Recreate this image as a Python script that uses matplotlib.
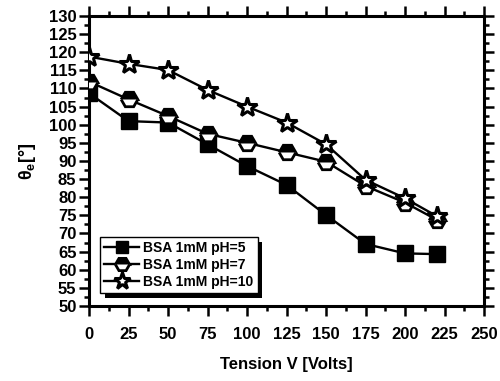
import matplotlib
matplotlib.use("Agg")
import matplotlib.pyplot as plt
from matplotlib.ticker import MultipleLocator
import matplotlib.patheffects as pe

plt.rcParams['font.family'] = ['Liberation Sans', 'DejaVu Sans']
plt.rcParams['font.weight'] = 'bold'
plt.rcParams['mathtext.fontset'] = 'custom'
plt.rcParams['mathtext.bf'] = 'Liberation Sans:bold'
plt.rcParams['mathtext.rm'] = 'Liberation Sans:bold'
plt.rcParams['mathtext.it'] = 'Liberation Sans:bold'
plt.rcParams['mathtext.default'] = 'bf'

voltage = [0, 25, 50, 75, 100, 125, 150, 175, 200, 220]
ph5 = [108.7, 101.0, 100.6, 94.6, 88.6, 83.4, 75.1, 67.1, 64.5, 64.3]
ph7 = [111.9, 107.0, 102.4, 97.5, 95.0, 92.4, 89.8, 83.1, 78.5, 73.8]
ph10 = [118.8, 116.8, 115.1, 109.6, 105.0, 100.6, 94.6, 84.8, 79.7, 74.8]
labels = ['BSA 1mM pH=5', 'BSA 1mM pH=7', 'BSA 1mM pH=10']

fig = plt.figure(figsize=(5.0, 3.81), dpi=100)
ax = fig.add_axes([0.178, 0.197, 0.79, 0.761])

lw = 1.7
ax.plot(voltage, ph5, color='black', lw=lw, marker='s', ms=11,
        mfc='black', mec='black', label=labels[0], zorder=3)
ax.plot(voltage, ph7, color='black', lw=lw, marker='H', ms=12,
        mfc='black', mfcalt='white', fillstyle='top', mec='black', mew=2.0,
        label=labels[1], zorder=4)
ax.plot(voltage, ph10, color='black', lw=lw, marker='*', ms=15,
        mfc='white', mec='black', mew=2.2, label=labels[2], zorder=5)

ax.set_xlim(0, 250)
ax.set_ylim(50, 130)
ax.xaxis.set_major_locator(MultipleLocator(25))
ax.xaxis.set_minor_locator(MultipleLocator(12.5))
ax.yaxis.set_major_locator(MultipleLocator(5))
ax.yaxis.set_minor_locator(MultipleLocator(2.5))

for s in ax.spines.values():
    s.set_linewidth(2.2)
ax.tick_params(which='both', direction='out', top=True, right=True,
               labeltop=False, labelright=False, width=1.8)
ax.tick_params(which='major', length=7, labelsize=12, pad=2)
ax.tick_params(which='minor', length=3.5)
for t in ax.get_xticklabels() + ax.get_yticklabels():
    t.set_fontweight('bold')
ax.tick_params(axis='x', which='major', pad=8)

ax.set_xlabel('Tension V [Volts]', fontsize=12, fontweight='bold', labelpad=11)
ax.set_ylabel(r'$\theta_e$[°]', fontsize=13, fontweight='bold', labelpad=8)

leg = ax.legend(loc='lower left', bbox_to_anchor=(0.028, 0.045), borderaxespad=0,
                fancybox=False, shadow=False,
                edgecolor='black', framealpha=1,
                prop={'weight': 'bold', 'size': 10},
                labelspacing=0.2, handlelength=2.5, handletextpad=0.3,
                borderpad=0.3, markerscale=0.85)
frame = leg.get_frame()
frame.set_linewidth(1.0)
frame.set_path_effects([pe.SimplePatchShadow(offset=(3.5, -3.5), shadow_rgbFace='black', alpha=1.0),
                        pe.Normal()])

fig.savefig('out.png', dpi=100)
